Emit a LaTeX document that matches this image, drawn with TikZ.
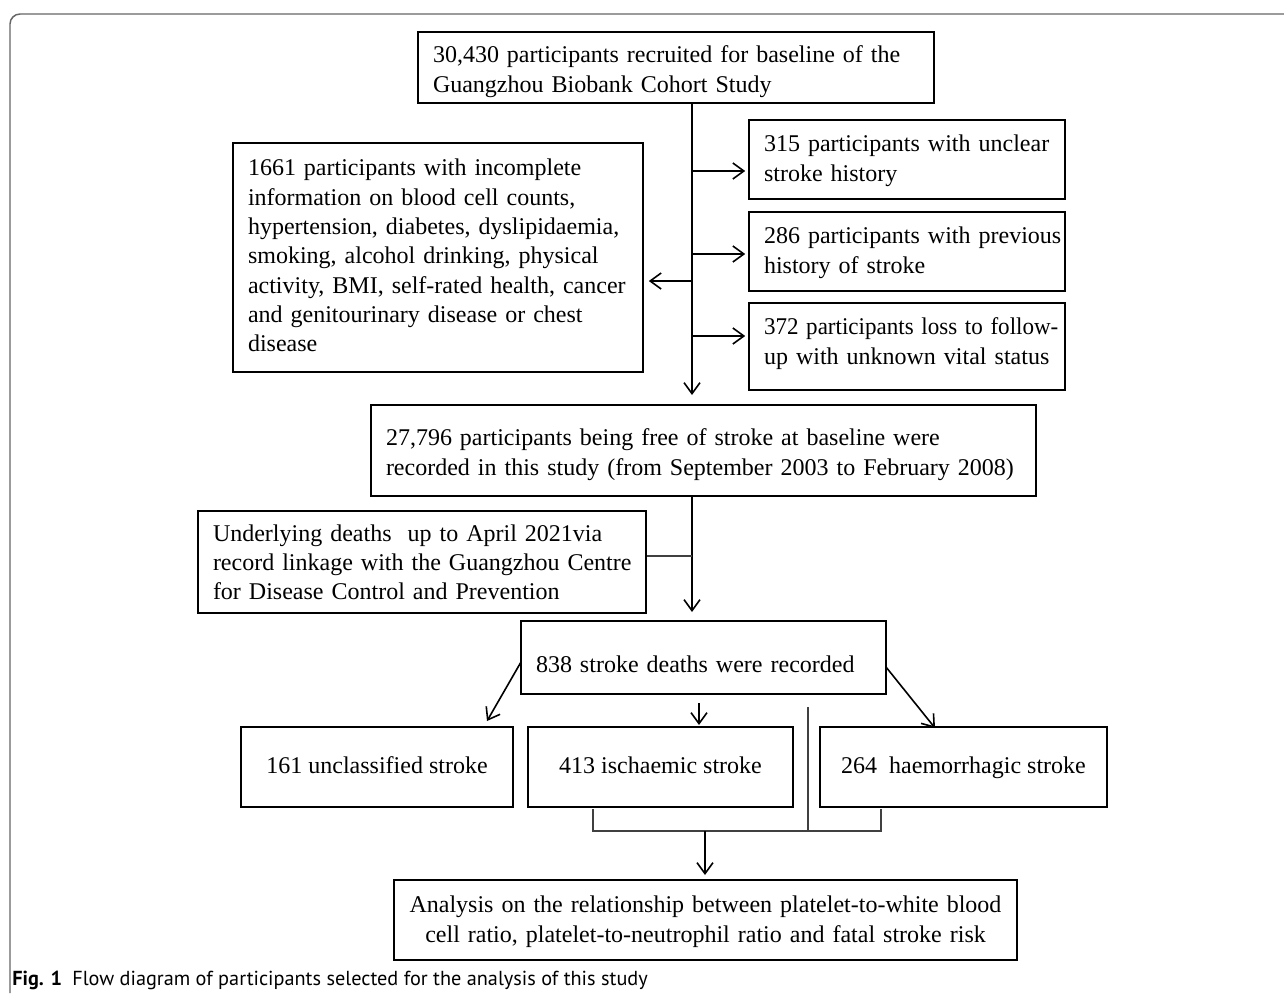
\documentclass[tikz,border=0pt]{standalone}
\usepackage{fontspec}
\setmainfont{Liberation Serif}
\newfontfamily\capfont{PT Sans}
\usetikzlibrary{arrows.meta,calc}
\newlength{\px}\setlength{\px}{0.75pt}
\newlength{\tsh}\setlength{\tsh}{0pt}
\newcommand{\oneln}[1]{\raisebox{-\tsh}[\height][\depth]{#1}}
\begin{document}
\begin{tikzpicture}[x=0.75pt,y=-0.75pt,
  box/.style={draw, line width=1.2pt, align=left, inner xsep=15\px, inner ysep=0pt,
    font=\fontsize{18}{22.5}\selectfont},
  cbox/.style={box, align=center},
  one/.style={text height=13pt, text depth=4pt},
  tshift/.style={execute at begin node={\setlength{\tsh}{#1}}},
  arr/.style={line width=1.2pt, -{Straight Barb[length=8.25pt,width=12pt,line width=1.2pt]}},
  thin/.style={line width=0.8pt, draw=black!75},
  frame/.style={line width=1.1pt, draw=black!60, rounded corners=10\px}]
\useasboundingbox (0,0) rectangle (1284,993);
\draw[frame] (10,993) -- (10,14) -- (1284,14);

% boxes
\node[box, tshift=4\px, minimum width=516\px, minimum height=71\px, text width=486\px] (t) at (676,67.5)
  {\oneln{30,430 participants recruited for baseline of the}\\\oneln{Guangzhou Biobank Cohort Study}};
\node[box, tshift=1\px, minimum width=316\px, minimum height=79\px, text width=286\px] (r1) at (907,159.5)
  {\oneln{315 participants with unclear}\\\oneln{stroke history}};
\node[box, tshift=1\px, minimum width=316\px, minimum height=79\px, text width=286\px] (r2) at (907,251.5)
  {\oneln{286 participants with previous}\\\oneln{history of stroke}};
\node[box, tshift=-3\px, minimum width=316\px, minimum height=87\px, text width=286\px] (r3) at (907,346.5)
  {\oneln{\scalebox{0.96}[1]{372 participants loss to follow-}}\\\oneln{up with unknown vital status}};
\node[box, tshift=-2\px, font=\fontsize{18}{22}\selectfont, minimum width=410\px, minimum height=229\px, text width=380\px] (l) at (438,257.5)
  {\oneln{1661 participants with incomplete}\\\oneln{information on blood cell counts,}\\\oneln{hypertension, diabetes, dyslipidaemia,}\\\oneln{smoking, alcohol drinking, physical}\\\oneln{activity, BMI, self-rated health, cancer}\\\oneln{and genitourinary disease or chest}\\\oneln{disease}};
\node[box, tshift=4\px, minimum width=665\px, minimum height=91\px, text width=635\px] (f) at (703.5,450.5)
  {\oneln{27,796 participants being free of stroke at baseline were}\\\oneln{recorded in this study (from September 2003 to February 2008)}};
\node[box, font=\fontsize{18}{21.8}\selectfont, minimum width=448\px, minimum height=102\px, text width=418\px] (u) at (422,562)
  {\oneln{Underlying deaths\ \ up to April 2021via}\\\oneln{record linkage with the Guangzhou Centre}\\\oneln{for Disease Control and Prevention}};
\node[box, minimum width=365\px, minimum height=73\px, text width=335\px] (d) at (703.5,657.5)
  {\raisebox{-15\px}[0pt][0pt]{838 stroke deaths were recorded}};
\node[cbox, one, minimum width=272\px, minimum height=80\px] (b1) at (377,767) {161 unclassified stroke};
\node[cbox, one, minimum width=265\px, minimum height=80\px] (b2) at (660.5,767) {413 ischaemic stroke};
\node[cbox, one, minimum width=287\px, minimum height=80\px] (b3) at (963.5,767) {264\ \ haemorrhagic stroke};
\node[cbox, tshift=2\px, minimum width=623\px, minimum height=80\px, text width=593\px] (z) at (705.5,920)
  {\oneln{Analysis on the relationship between platelet-to-white blood}\\\oneln{cell ratio, platelet-to-neutrophil ratio and fatal stroke risk}};

% coordinates
\coordinate (m1) at (692,395);
\coordinate (j1) at (692,171);
\coordinate (j2) at (692,254);
\coordinate (j3) at (692,336);
\coordinate (jl) at (692,281);
\coordinate (m2) at (692,612);
\coordinate (ju) at (692,556);
\coordinate (a1s) at (521,662);
\coordinate (a1e) at (487,721);
\coordinate (a2s) at (699,703);
\coordinate (a2e) at (699,725);
\coordinate (a3s) at (886,667);
\coordinate (a3e) at (935,728);
\coordinate (vt) at (808,707);
\coordinate (vb) at (808,831);
\coordinate (k1) at (593,809);
\coordinate (k2) at (881,809);
\coordinate (kb) at (705,831);
\coordinate (fa) at (705,875);

% connectors
\draw[arr] (m1 |- t.south) -- (m1);
\draw[arr] (j1) -- ([xshift=-3\px]j1 -| r1.west);
\draw[arr] (j2) -- ([xshift=-3\px]j2 -| r2.west);
\draw[arr] (j3) -- ([xshift=-3\px]j3 -| r3.west);
\draw[arr] (jl) -- ([xshift=5\px]jl -| l.east);
\draw[arr] (m2 |- f.south) -- (m2);
\draw[thin] (ju -| u.east) -- (ju);
\draw[arr] (a1s) -- (a1e);
\draw[arr] (a2s) -- (a2e);
\draw[arr] (a3s) -- (a3e);
\draw[thin] (vt) -- (vb);
\draw[thin] (k1) -- (k1 |- vb) -- (k2 |- vb) -- (k2);
\draw[arr] (kb) -- (fa);

\node[anchor=base west, inner sep=0pt, font=\capfont\fontsize{15.2}{18}\selectfont] (cap) at (12,985)
  {\textbf{Fig. 1}\enspace Flow diagram of participants selected for the analysis of this study};
\end{tikzpicture}
\end{document}
